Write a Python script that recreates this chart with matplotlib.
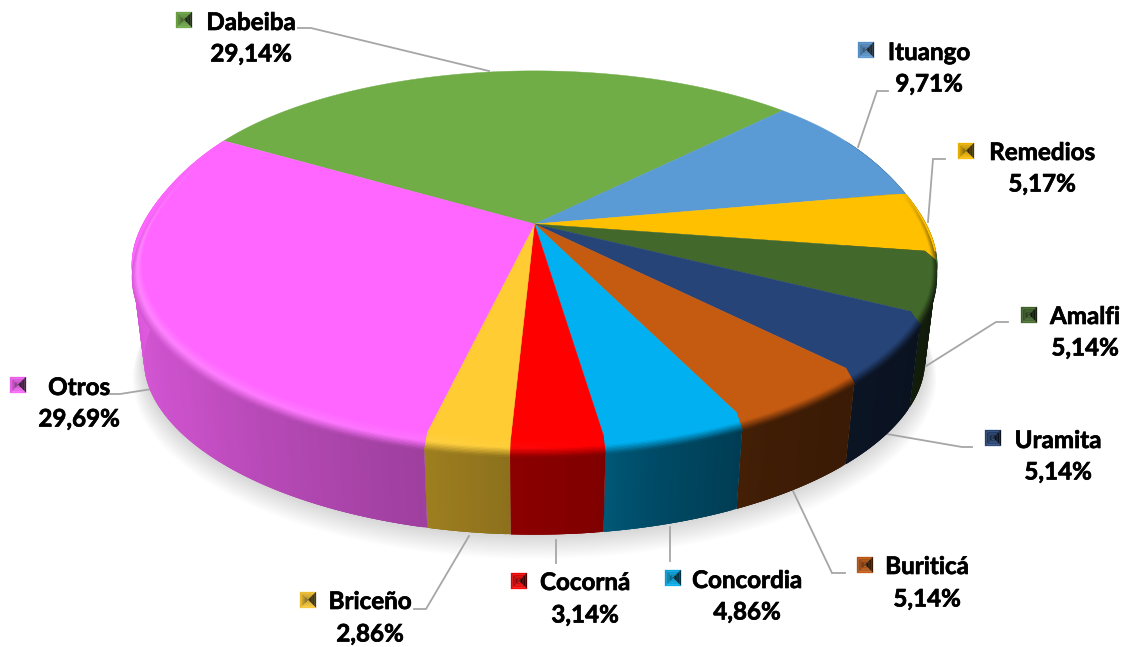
import numpy as np
import matplotlib
matplotlib.use("Agg")
import matplotlib.pyplot as plt
import matplotlib.patheffects as pe
from matplotlib.patches import Polygon

municipios = ["Dabeiba", "Ituango", "Remedios", "Amalfi", "Uramita", "Buriticá",
              "Concordia", "Cocorná", "Briceño", "Otros"]
porcentajes = [29.14, 9.71, 5.17, 5.14, 5.14, 5.14, 4.86, 3.14, 2.86, 29.69]
colores = ["#70AD47", "#5B9BD5", "#FFC000", "#43682B", "#264478", "#C55A11",
           "#00B0F0", "#FF0000", "#FFCC33", "#FF66FF"]

# layout (pixels)
W, H = 1133, 647
CX, CY, A, B, K = 534.5, 224.0, 399.0, 181.0, 0.182
START = -59.9
DEPTH, BOTTOM_SCALE = 96.0, 0.97

name_pos = [(251, 22.5), (929, 52.5), (1042, 152.5), (1085, 316.5), (1058, 440.5),
            (927, 566.5), (747, 580.5), (585, 582.5), (370, 601.5), (79, 387.5)]
pct_pos = [(251, 54), (929, 84), (1042, 184), (1085, 348), (1058, 472),
           (927, 599), (747, 612), (585, 615), (370, 634), (79, 419)]
key_pos = [(184, 20), (866, 50), (966, 151), (1029, 315), (993, 438),
           (865, 565), (673, 578), (519, 581), (308, 600), (18, 385)]
leaders = [
    [(298, 28), (311, 28), (489, 71)],
    [(888, 91), (877, 91), (858, 147)],
    [(945, 159), (933, 159), (928, 222)],
    [(1008, 322), (996, 322), (923, 368)],
    [(972, 447), (962, 447), (881, 433)],
    [(845, 573), (832, 573), (793, 491)],
    [(670, 561), (670, 527)],
    [(556, 563), (556, 540)],
    [(414, 609), (426, 609), (469, 536)],
    [(108, 394), (120, 394), (152, 389)],
]

shade_th = [60, 90, 120, 150, 165, 172, 183, 193, 230, 260, 280, 300]
shade_val = [.25, .25, .27, .32, .42, .50, .55, .62, .78, .86, .93, .95]


def proj(theta, r=1.0, z=0.0, s=1.0):
    t = np.radians(theta)
    u, v = r * np.sin(t), r * np.cos(t)
    w = 1 + K * v
    squeeze = 1 - 0.027 * np.exp(-((v - 0.25) / 0.4) ** 2)
    return CX + s * A * squeeze * u / w, CY - s * B * v / w + z


def rgb(c):
    return np.array(matplotlib.colors.to_rgb(c))


def ring(t0, t1, step=1.0):
    n = max(2, int(abs(t1 - t0) / step) + 1)
    return np.linspace(t0, t1, n)


fig = plt.figure(figsize=(W / 100, H / 100), dpi=100)
ax = fig.add_axes([0, 0, 1, 1])
ax.set_xlim(0, W)
ax.set_ylim(H, 0)
ax.axis("off")

# soft shadow under the pie
all_t = np.linspace(0, 360, 361)
for i in range(20, 0, -1):
    g = i * 1.0
    x, y = proj(all_t, s=BOTTOM_SCALE + g / 700, z=DEPTH + g * 0.9)
    ax.add_patch(Polygon(np.c_[x, y], closed=True, fc="k", ec="none", alpha=0.009, zorder=1))

edges = START + np.cumsum([0] + porcentajes) * 3.6

# side wall: every strip runs under the next one so no seams show
for i, c in enumerate(colores):
    t0, t1 = max(edges[i], 60), min(edges[i + 1], 300)
    if t1 <= t0:
        continue
    ts = ring(t0, t1, 0.5)
    base = rgb(c)
    for a, b in zip(ts[:-1], ts[1:]):
        m = np.interp((a + b) / 2, shade_th, shade_val)
        col = base * m
        b2 = min(b + 1.0, t1)
        xa, ya = proj(a)
        xb, yb = proj(b2)
        xc, yc = proj(b2, s=BOTTOM_SCALE, z=DEPTH)
        xd, yd = proj(a, s=BOTTOM_SCALE, z=DEPTH)
        ax.add_patch(Polygon([(xa, ya), (xb, yb), (xc, yc), (xd, yd)], closed=True,
                             fc=col, ec="none", zorder=2))

# top face
for i, c in enumerate(colores):
    ts = ring(edges[i], edges[i + 1], 0.5)
    x, y = proj(ts)
    pts = np.vstack([[CX, CY], np.c_[x, y]])
    ax.add_patch(Polygon(pts, closed=True, fc=c, ec=c, lw=0.3, zorder=3))

# bevel along the front rim
levels = np.linspace(0, 1, 15)
for i, c in enumerate(colores):
    t0, t1 = max(edges[i], 78), min(edges[i + 1], 292)
    if t1 <= t0:
        continue
    ts = ring(t0, t1)
    base = rgb(c)
    for a, b in zip(ts[:-1], ts[1:]):
        mid = (a + b) / 2
        b2 = min(b + 1.0, t1)
        m = np.interp(mid, shade_th, shade_val)
        side = base * m
        glow = 0.24 * np.clip((m - 0.5) / 0.4, 0, 1)
        high = base + (1 - base) * glow
        fade = np.clip(min(mid - 78, 292 - mid) / 30, 0, 1)
        for n, (l0, l1) in enumerate(zip(levels[:-1], levels[1:])):
            lm = (l0 + l1) / 2
            if lm < 0.5:
                col = base + (high - base) * (lm / 0.5)
            else:
                col = high + (side - high) * ((lm - 0.5) / 0.5)
            col = np.clip(base + (col - base) * fade, 0, 1)
            l1x = min(l1 + 0.06, 1)
            r0, r1 = 0.975 + 0.025 * l0, 0.975 + 0.025 * l1x
            z0, z1 = 12 * l0 * fade, 12 * l1x * fade
            quad = [proj(a, r0, z0), proj(b2, r0, z0), proj(b2, r1, z1), proj(a, r1, z1)]
            ax.add_patch(Polygon(quad, closed=True, fc=col, ec="none", zorder=4 + n * 0.01))

# leader lines
for pts in leaders:
    xs, ys = zip(*pts)
    ax.plot(xs, ys, color="#A6A6A6", lw=1.3, zorder=1.5, solid_joinstyle="miter")

# labels
font = dict(family="Lato", weight="bold", color="black", fontsize=17.4, zorder=7,
            ha="center", va="center",
            path_effects=[pe.withStroke(linewidth=0.5, foreground="black")])
for name, val, np_, vp in zip(municipios, porcentajes, name_pos, pct_pos):
    ax.text(*np_, name, **font)
    ax.text(*vp, f"{val:.2f}%".replace(".", ","), **font)

# bevelled legend keys: four facets shaded from the outer edge to the centre
R = 8
for c, (kx, ky) in zip(colores, key_pos):
    base = rgb(c)
    corners = np.array([(-R, -R), (R, -R), (R, R), (-R, R)], float)
    outer = [base * 0.95, base * 0.3, base * 0.95 + 0.05, base * 0.95]
    inner = [base * 0.7, base * 0.2, base * 0.8, base * 0.45]
    for j in range(4):
        p, q = corners[j], corners[(j + 1) % 4]
        for f0, f1 in zip(np.linspace(1, 0, 6)[:-1], np.linspace(1, 0, 6)[1:]):
            tone = np.clip(inner[j] + (outer[j] - inner[j]) * (f0 + f1) / 2, 0, 1)
            poly = np.array([p * f0, q * f0, q * f1, p * f1]) + (kx, ky)
            ax.add_patch(Polygon(poly, closed=True, fc=tone, ec=tone, lw=0.2, zorder=6))

fig.savefig("out.png", dpi=100, facecolor="white")
